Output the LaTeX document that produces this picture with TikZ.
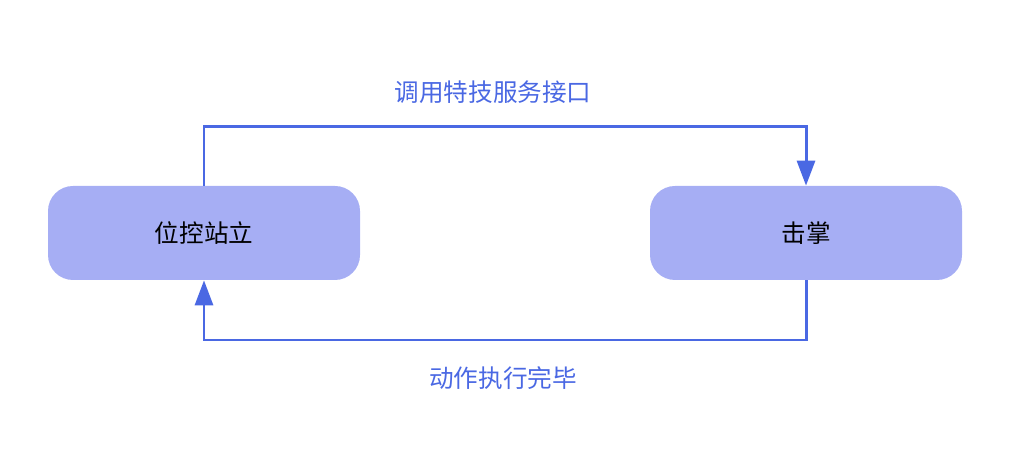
\documentclass[tikz,border=0pt]{standalone}
\usepackage{fontspec}
\setmainfont{Noto Sans CJK SC}
\usetikzlibrary{positioning,arrows.meta}
\definecolor{boxfill}{HTML}{A6AEF4}
\definecolor{lineblue}{HTML}{4A68E3}
\begin{document}
\begin{tikzpicture}[
		state/.style={fill=boxfill, text centered, minimum width=6.24cm, minimum height=1.88cm, rounded corners=0.5cm, font=\fontsize{14}{16}\selectfont},
		connections/.style={draw=lineblue, line width=1.7pt, -{Triangle[length=0.5cm,width=0.36cm]}},
		label/.style={text=lineblue, font=\fontsize{14}{16}\selectfont},
	]
	\useasboundingbox (0,0) rectangle (20.24,9.3);
	% Draw diagram elements
	\node (stand) [state] at (4.08,4.64) {位控站立};
	\node (palm) [state] at (16.12,4.64) {击掌};
	\node (call) [label] at (9.86,7.46) {调用特技服务接口};
	\node (done) [label] at (10.06,1.74) {动作执行完毕};
	% Draw arrows between elements
	\draw[connections] (stand.north) |- (palm.north |- 0,6.76) -- (palm.north);
	\draw[connections] (palm.south) |- (stand.south |- 0,2.5) -- (stand.south);
\end{tikzpicture}
\end{document}
